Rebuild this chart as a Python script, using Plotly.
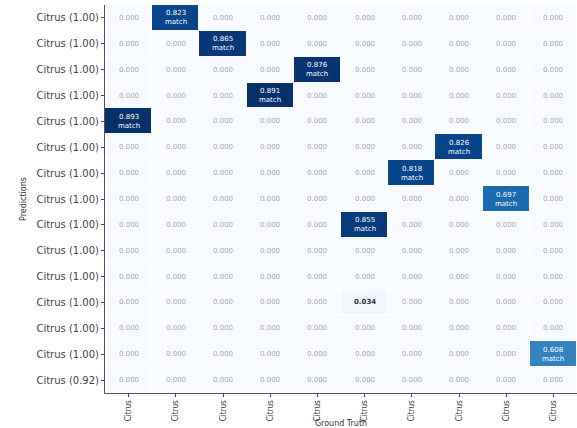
import plotly.graph_objects as go
import numpy as np

gt_labels = ["Citrus"] * 10
pred_labels = ["Citrus (1.00)"] * 14 + ["Citrus (0.92)"]

# (row, col, value) of non-zero cells
match_rows = [0, 1, 2, 3, 4, 5, 6, 7, 8, 13]
match_cols = [1, 2, 4, 3, 0, 7, 6, 8, 5, 9]
match_vals = [0.823, 0.865, 0.876, 0.891, 0.893, 0.826, 0.818, 0.697, 0.855, 0.608]
other_rows = [11]
other_cols = [5]
other_vals = [0.034]

nr, nc = len(pred_labels), len(gt_labels)
z = np.zeros((nr, nc))
for r, c, v in zip(match_rows, match_cols, match_vals):
    z[r, c] = v
for r, c, v in zip(other_rows, other_cols, other_vals):
    z[r, c] = v

fig = go.Figure(go.Heatmap(
    z=z, x=list(range(nc)), y=list(range(nr)),
    colorscale="Blues", zmin=0, zmax=float(z.max()), showscale=False,
    xgap=1, ygap=1, hoverinfo="skip",
))

matched = set(zip(match_rows, match_cols))
others = set(zip(other_rows, other_cols))
ann = []
for r in range(nr):
    for c in range(nc):
        v = z[r, c]
        if (r, c) in matched:
            ann.append(dict(x=c, y=r, text=f"{v:.3f}<br>match", showarrow=False,
                            font=dict(size=7, color="white", family="DejaVu Sans")))
        elif (r, c) in others:
            ann.append(dict(x=c, y=r, text=f"<b>{v:.3f}</b>", showarrow=False,
                            font=dict(size=7, color="#333333", family="DejaVu Sans")))
        else:
            ann.append(dict(x=c, y=r, text=f"{v:.3f}", showarrow=False,
                            font=dict(size=7, color="#aaaaaa", family="DejaVu Sans")))

fig.update_layout(
    width=577, height=428,
    margin=dict(l=105, r=0, t=5, b=35),
    paper_bgcolor="white", plot_bgcolor="white",
    annotations=ann,
    font=dict(family="DejaVu Sans", size=8, color="#333333"),
)
fig.update_xaxes(
    tickvals=list(range(nc)), ticktext=gt_labels, tickangle=-90,
    ticks="outside", ticklen=3, showline=True, linecolor="#555555", linewidth=1,
    showgrid=False, zeroline=False,
    tickfont=dict(size=8, color="#333333",
                  family="Liberation Sans Narrow, DejaVu Sans Condensed, sans-serif"),
    title=dict(text="Ground Truth", font=dict(size=8, color="#333333"), standoff=1),
    range=[-0.5, nc - 0.5],
)
fig.update_yaxes(
    tickvals=list(range(nr)), ticktext=pred_labels, autorange=False,
    range=[nr - 0.5, -0.5],
    ticks="outside", ticklen=3, showline=True, linecolor="#555555", linewidth=1,
    showgrid=False, zeroline=False, tickfont=dict(size=10, color="#444444"),
    title=dict(text="Predictions", font=dict(size=8, color="#333333"), standoff=8),
)
fig.write_html("out.html")
